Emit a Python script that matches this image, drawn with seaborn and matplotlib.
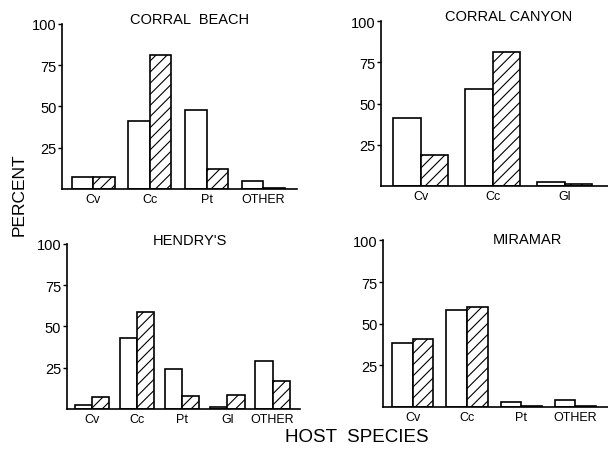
import pandas as pd
import seaborn as sns
import matplotlib.pyplot as plt

# percent of each host species, open bars vs hatched bars
beach_hosts = ['Cv', 'Cc', 'Pt', 'OTHER']
beach_open = [7, 41, 48, 5]
beach_hatch = [7, 81, 12, 0.5]

canyon_hosts = ['Cv', 'Cc', 'Gl']
canyon_open = [41, 59, 2.5]
canyon_hatch = [19, 81, 1]

hendry_hosts = ['Cv', 'Cc', 'Pt', 'Gl', 'OTHER']
hendry_open = [2.5, 43, 24, 1, 29]
hendry_hatch = [7.5, 59, 8, 8.5, 17]

miramar_hosts = ['Cv', 'Cc', 'Pt', 'OTHER']
miramar_open = [38.5, 58, 3, 4]
miramar_hatch = [41, 60, 0.8, 0.5]

yticks = [25, 50, 75, 100]


def make_df(hosts, open_vals, hatch_vals):
    df = pd.DataFrame({'host': hosts * 2,
                       'pct': open_vals + hatch_vals,
                       'set': ['open'] * len(hosts) + ['hatched'] * len(hosts)})
    return df


sns.set_style("ticks", {'axes.edgecolor': 'black', 'xtick.color': 'black',
                        'ytick.color': 'black', 'text.color': 'black'})
plt.rcParams['font.family'] = ['Liberation Sans', 'DejaVu Sans']
plt.rcParams['hatch.linewidth'] = 0.8

fig = plt.figure(figsize=(6.08, 4.52), dpi=100)

panels = [
    ('CORRAL  BEACH', beach_hosts, beach_open, beach_hatch, [0.102, 0.580, 0.387, 0.365], 0.54, 1.03),
    ('CORRAL CANYON', canyon_hosts, canyon_open, canyon_hatch, [0.627, 0.586, 0.373, 0.365], 0.56, 1.03),
    ("HENDRY'S", hendry_hosts, hendry_open, hendry_hatch, [0.110, 0.093, 0.383, 0.365], 0.53, 1.025),
    ('MIRAMAR', miramar_hosts, miramar_open, miramar_hatch, [0.630, 0.097, 0.370, 0.369], 0.64, 1.01),
]

for title, hosts, ov, hv, rect, tx, ty in panels:
    ax = fig.add_axes(rect)
    df = make_df(hosts, ov, hv)
    sns.barplot(data=df, x='host', y='pct', hue='set', ax=ax, order=hosts,
                palette=['white', 'white'], saturation=1, edgecolor='black',
                linewidth=1.2, width=0.76, gap=0, legend=False)
    for bar in ax.containers[1]:
        bar.set_hatch('///')
    ax.set_xlim(-0.55, len(hosts) - 1 + 0.6)
    ax.set_ylim(0, 100)
    ax.set_yticks(yticks)
    ax.set_yticklabels([str(t) for t in yticks])
    ax.set_xlabel('')
    ax.set_ylabel('')
    sns.despine(ax=ax)
    ax.spines['left'].set_linewidth(1.2)
    ax.spines['bottom'].set_linewidth(1.2)
    ax.tick_params(axis='x', length=0, pad=3, labelsize=9)
    ax.tick_params(axis='y', length=3, width=1, pad=1, labelsize=10.5)
    ax.text(tx, ty, title, transform=ax.transAxes, ha='center', va='center', fontsize=10.5)

fig.text(0.031, 0.57, 'PERCENT', rotation=90, ha='center', va='center', fontsize=12.5)
fig.text(0.587, 0.033, 'HOST  SPECIES', ha='center', va='center', fontsize=13.5)

plt.savefig('out.png', dpi=100)
